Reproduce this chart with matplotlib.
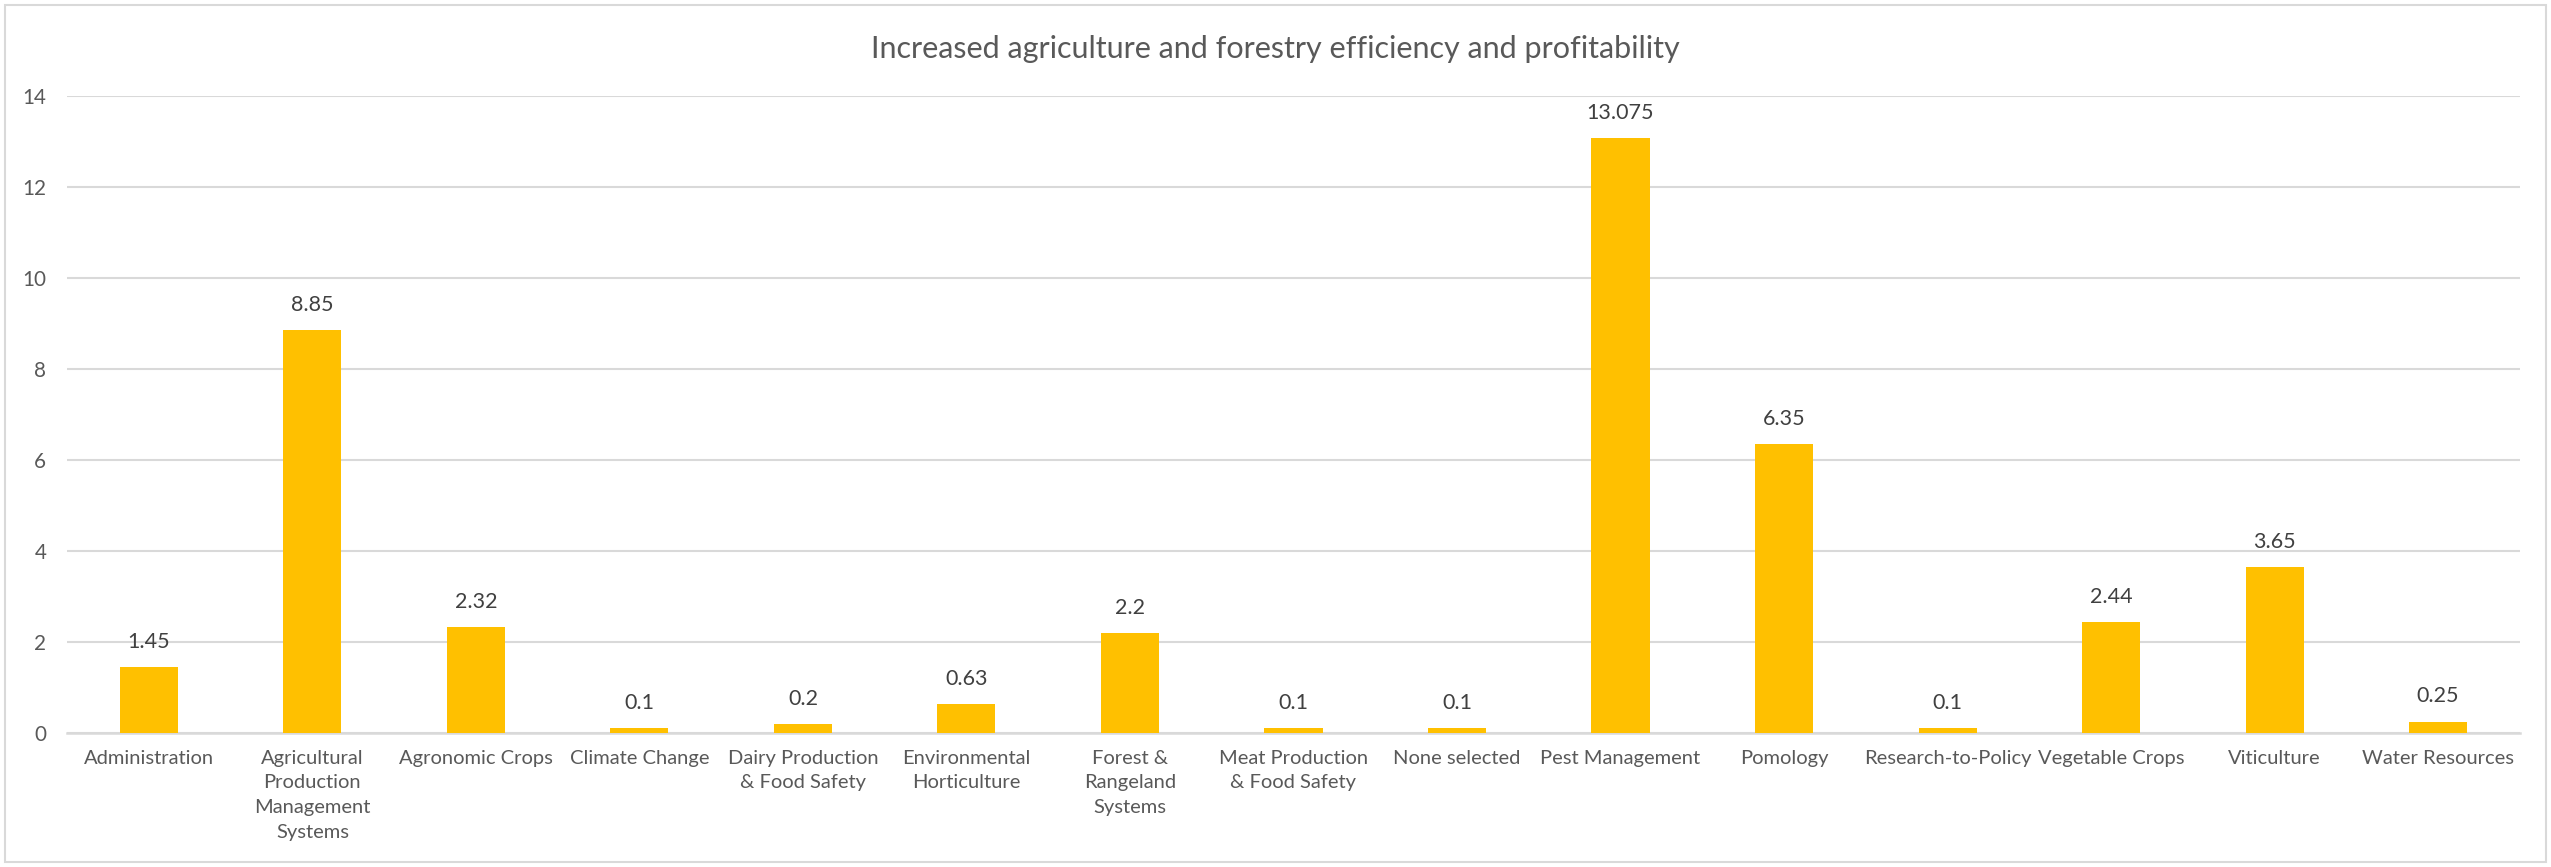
import matplotlib.pyplot as plt
from matplotlib.patches import Rectangle
import numpy as np

categories = ['Administration', 'Agricultural\nProduction\nManagement\nSystems',
              'Agronomic Crops', 'Climate Change', 'Dairy Production\n& Food Safety',
              'Environmental\nHorticulture', 'Forest &\nRangeland\nSystems',
              'Meat Production\n& Food Safety', 'None selected', 'Pest Management',
              'Pomology', 'Research-to-Policy', 'Vegetable Crops', 'Viticulture',
              'Water Resources']
values = [1.45, 8.85, 2.32, 0.1, 0.2, 0.63, 2.2, 0.1, 0.1, 13.075, 6.35, 0.1, 2.44, 3.65, 0.25]
yticks = [0, 2, 4, 6, 8, 10, 12, 14]
title = 'Increased agriculture and forestry efficiency and profitability'

plt.rcParams['font.family'] = ['Lato', 'DejaVu Sans']

fig = plt.figure(figsize=(25.51, 8.67), dpi=100)
ax = fig.add_axes([0.0263, 0.1546, 0.9615, 0.7347])

x = np.arange(len(categories))
bars = ax.bar(x, values, width=0.355, color='#FFC000', zorder=3)
for xi, v in zip(x, values):
    ax.annotate(f'{v:g}', (xi, v), xytext=(0, 11), textcoords='offset points',
                ha='center', va='bottom', fontsize=15.5, color='#404040')

ax.set_xlim(-0.5, len(categories) - 0.5)
ax.set_ylim(0, 14)
ax.set_yticks(yticks)
ax.set_xticks(x)
ax.set_xticklabels(categories, fontsize=14.5, color='#595959', linespacing=1.56, va='top')
ax.tick_params(axis='y', labelsize=14.9, labelcolor='#595959', length=0, pad=15)
ax.tick_params(axis='x', length=0, pad=12)
ax.grid(axis='y', color='#d9d9d9', linewidth=1.5, zorder=0)
for s in ['top', 'right', 'left']:
    ax.spines[s].set_visible(False)
ax.spines['bottom'].set_color('#d9d9d9')
ax.spines['bottom'].set_linewidth(1.8)

fig.text(0.5, 0.944, title, ha='center', va='center', fontsize=22, color='#595959')

# light border around the chart area
fig.patches.append(Rectangle((0.002, 0.006), 0.996, 0.988, transform=fig.transFigure,
                             fill=False, edgecolor='#d9d9d9', linewidth=1.5))

fig.savefig('out.png', dpi=100)
